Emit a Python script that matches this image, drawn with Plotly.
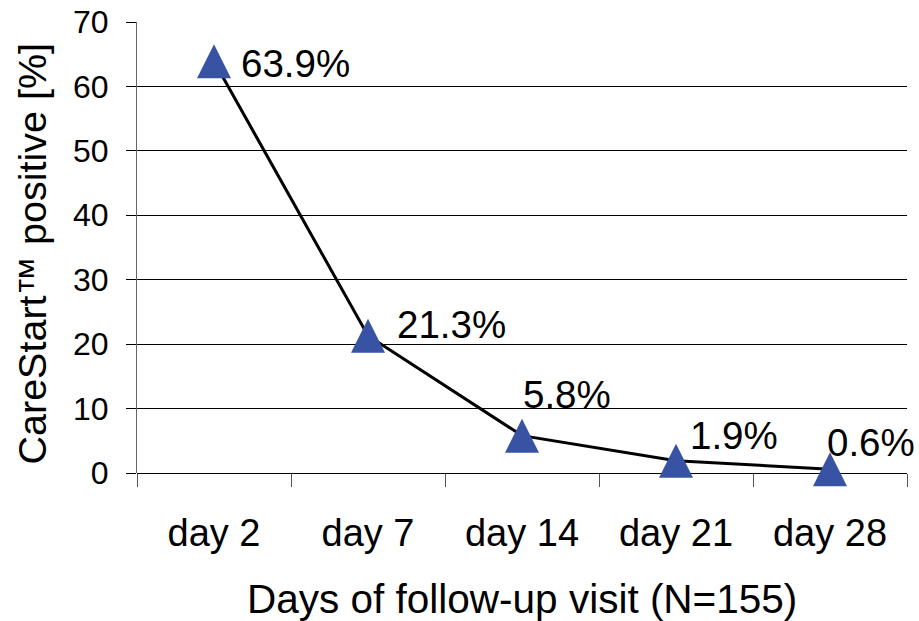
import plotly.graph_objects as go

categories = ["day 2", "day 7", "day 14", "day 21", "day 28"]
positive_pct = [63.9, 21.3, 5.8, 1.9, 0.6]
label_texts = ["63.9%", "21.3%", "5.8%", "1.9%", "0.6%"]

# label placement offsets (pixels): (xshift, yshift)
label_offsets = [(26, -2), (28, 11), (0, 41), (13, 25), (-4, 27)]

FONT = "Liberation Sans, Arial, Helvetica, sans-serif"

fig = go.Figure()
# connecting line
fig.add_trace(go.Scatter(
    x=categories, y=positive_pct, mode="lines",
    line=dict(color="black", width=3),
    showlegend=False, hoverinfo="skip",
))
# triangle markers (arrow shape rotated and centred on the point)
fig.add_trace(go.Scatter(
    x=categories, y=positive_pct, mode="markers", cliponaxis=False,
    marker=dict(symbol="arrow-down", angle=180, size=34, standoff=17,
                color="#3953A4", line=dict(width=0)),
    showlegend=False, hoverinfo="skip",
))

for c, v, t, (dx, dy) in zip(categories, positive_pct, label_texts, label_offsets):
    fig.add_annotation(x=c, y=v, text=t, showarrow=False,
                       xanchor="left", yanchor="middle", borderpad=0,
                       xshift=dx, yshift=dy,
                       font=dict(family=FONT, size=38.5, color="black"))

# axis titles
fig.add_annotation(xref="paper", yref="paper", x=0.5, y=0, yshift=-126,
                   text="Days of follow-up visit (N=155)", showarrow=False,
                   xanchor="center", yanchor="middle",
                   font=dict(family=FONT, size=40.5, color="black"))
fig.add_annotation(xref="paper", yref="paper", x=0, y=0.5, xshift=-106,
                   yshift=-7, textangle=-90,
                   text="CareStart™ positive [%]", showarrow=False,
                   xanchor="center", yanchor="middle",
                   font=dict(family=FONT, size=39.5, color="black"))

fig.update_layout(
    width=919, height=621,
    margin=dict(l=137, r=12, t=22, b=148),
    paper_bgcolor="white", plot_bgcolor="white",
    font=dict(family=FONT, color="black"),
)
fig.update_xaxes(
    type="category", range=[-0.5, 4.5], tickson="boundaries", ticks="outside",
    ticklen=13, tickcolor="#555555", tickwidth=1, showgrid=False, showline=False,
    tickfont=dict(size=38), ticklabelstandoff=34, automargin=False,
)
fig.update_yaxes(
    range=[0, 70], dtick=10, ticks="outside", ticklen=10, tickcolor="black",
    showgrid=True, gridcolor="black", gridwidth=1,
    zeroline=True, zerolinecolor="black", zerolinewidth=1,
    showline=True, linecolor="#666666", linewidth=1,
    tickfont=dict(size=32), ticklabelstandoff=11, automargin=False,
    ticklabeloverflow="allow",
)

# remove the default 8px page margin so the 919x621 figure fills the window
fig.write_html("out.html", config={"displayModeBar": False},
               post_script="document.body.style.margin='0px';")
